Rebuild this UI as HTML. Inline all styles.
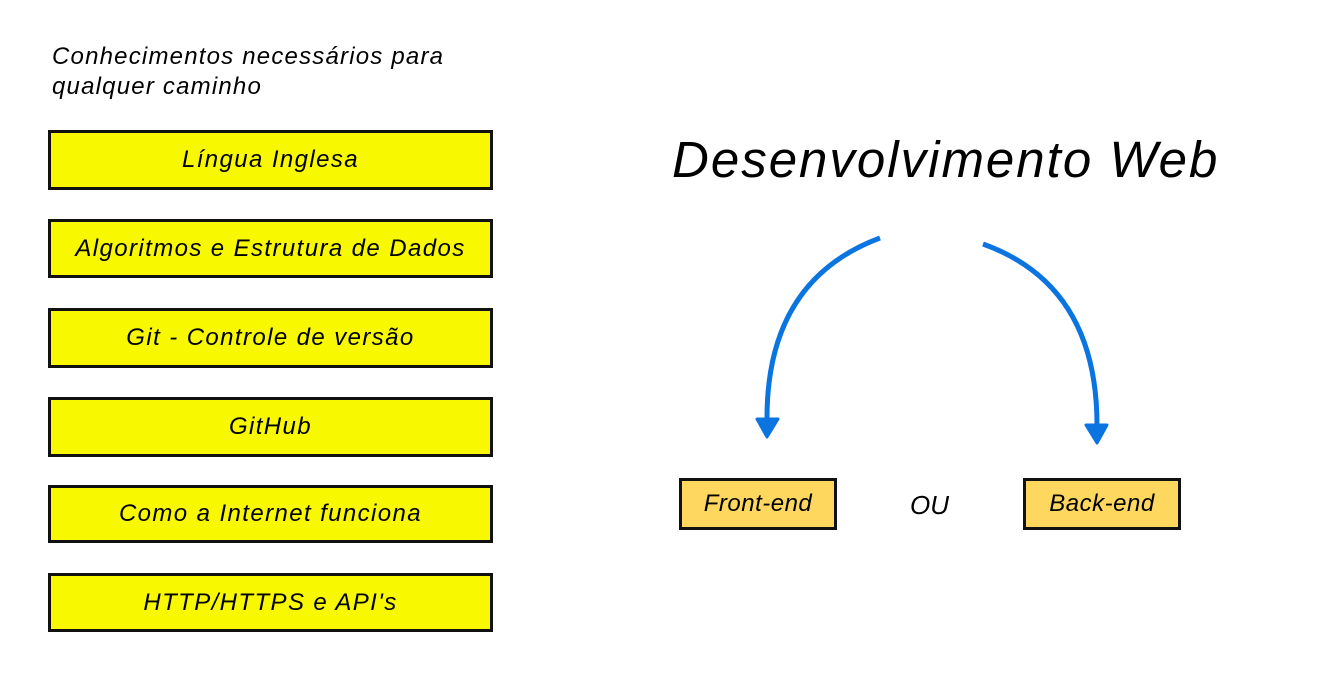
<!DOCTYPE html>
<html><head><meta charset="utf-8"><style>
body{margin:0;width:1343px;height:674px;background:#fff;position:relative;overflow:hidden;font-family:"Liberation Sans",sans-serif;font-style:italic;color:#000}
.b{position:absolute;left:48px;width:439px;background:#f8f800;border:3px solid #111;display:flex;align-items:center;justify-content:center;font-size:24px;letter-spacing:1.4px;box-sizing:content-box}
.o{position:absolute;width:152px;height:46px;background:#fed75e;border:3px solid #111;display:flex;align-items:center;justify-content:center;font-size:24px;letter-spacing:0.5px}
.t{position:absolute;white-space:nowrap}
</style></head><body>
<div class="t" style="left:52px;top:42px;font-size:24px;line-height:30px;letter-spacing:1.2px">Conhecimentos necessários para<br>qualquer caminho</div>
<div class="b" style="top:130px;height:54px">Língua Inglesa</div>
<div class="b" style="top:219px;height:53px">Algoritmos e Estrutura de Dados</div>
<div class="b" style="top:308px;height:54px">Git - Controle de versão</div>
<div class="b" style="top:397px;height:54px">GitHub</div>
<div class="b" style="top:485px;height:52px">Como a Internet funciona</div>
<div class="b" style="top:573px;height:53px">HTTP/HTTPS e API's</div>
<div class="t" style="left:672px;top:130px;font-size:51px;letter-spacing:2px">Desenvolvimento Web</div>
<svg style="position:absolute;left:0;top:0" width="1343" height="674">
<path d="M880 238 Q767 280 767 418" fill="none" stroke="#0a74e0" stroke-width="5"/>
<path d="M757 419 L778 419 L767 437 Z" fill="#0a74e0" stroke="#0a74e0" stroke-width="3" stroke-linejoin="round"/>
<path d="M983 244 Q1097 285 1097 425" fill="none" stroke="#0a74e0" stroke-width="5"/>
<path d="M1086 425 L1107 425 L1097 443 Z" fill="#0a74e0" stroke="#0a74e0" stroke-width="3" stroke-linejoin="round"/>
</svg>
<div class="o" style="left:679px;top:478px">Front-end</div>
<div class="t" style="left:910px;top:490px;font-size:26px">OU</div>
<div class="o" style="left:1023px;top:478px">Back-end</div>
</body></html>
